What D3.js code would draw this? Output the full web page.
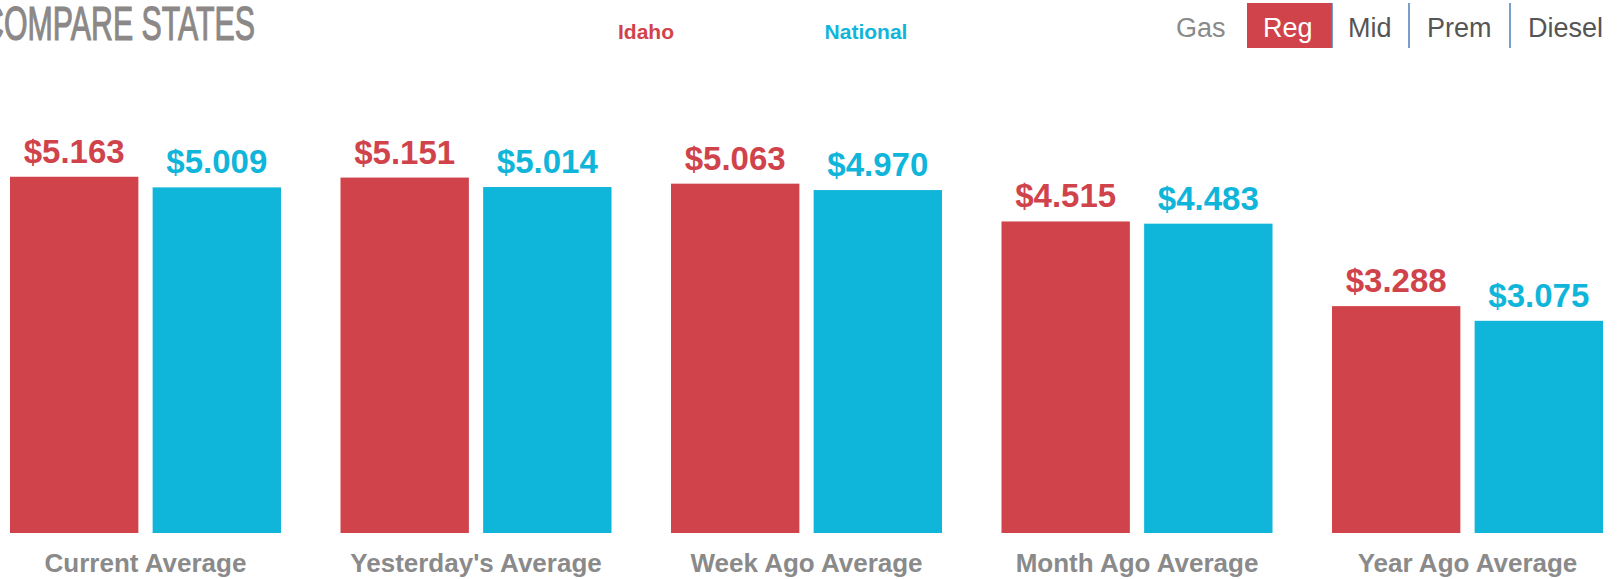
<html lang="en">
  <head>
    <meta charset="UTF-8" />
    <title>Compare States</title>
    <script src="https://d3js.org/d3.v7.min.js"></script>
  </head>
  <body>
    <style>
      body {
        background-color: #ffffff;
        margin: 0;
        padding: 0;
        overflow: hidden;
        font-family: "Liberation Sans", Arial, sans-serif;
      }
      svg {
        display: block;
      }
    </style>
    <script>
      const w = 1619;
      const h = 579;

      // data
      const categories = [
        "Current Average",
        "Yesterday's Average",
        "Week Ago Average",
        "Month Ago Average",
        "Year Ago Average",
      ];
      const seriesNames = ["Idaho", "National"];
      const idahoValues = [5.163, 5.151, 5.063, 4.515, 3.288];
      const nationalValues = [5.009, 5.014, 4.97, 4.483, 3.075];
      const gasTypes = ["Reg", "Mid", "Prem", "Diesel"];
      const activeGas = "Reg";

      const colors = { Idaho: "#d0434b", National: "#10b5da" };

      const rows = categories.map((c, i) => ({
        category: c,
        values: [
          { series: "Idaho", value: idahoValues[i] },
          { series: "National", value: nationalValues[i] },
        ],
      }));

      const svg = d3
        .select("body")
        .append("svg")
        .attr("width", w)
        .attr("height", h);

      // title (left edge is cut off like the original)
      const title = svg
        .append("text")
        .attr("font-size", 49)
        .attr("fill", "#8b8887")
        .attr("stroke", "#8b8887")
        .attr("stroke-width", 1.2)
        .text("COMPARE STATES");
      const fullW = title.node().getComputedTextLength();
      const cAdv = title.node().getSubStringLength(0, 1);
      const sx = 251 / (fullW - cAdv);
      title.attr(
        "transform",
        `translate(${4 - sx * cAdv}, 40) scale(${sx}, 1)`
      );

      // legend
      const legendX = { Idaho: 646, National: 866 };
      svg
        .append("g")
        .selectAll("text")
        .data(seriesNames)
        .join("text")
        .attr("x", (d) => legendX[d])
        .attr("y", 39)
        .attr("text-anchor", "middle")
        .attr("font-size", 21)
        .attr("font-weight", "bold")
        .attr("fill", (d) => colors[d])
        .text((d) => d);

      // gas type selector
      const menu = svg.append("g").attr("font-size", 27);
      menu
        .append("text")
        .attr("x", 1176)
        .attr("y", 37)
        .attr("fill", "#8a8a8a")
        .text("Gas");
      const menuStarts = [1247, 1332, 1409, 1510, 1619];
      const menuText = [1263, 1348, 1427, 1528];
      gasTypes.forEach((g, i) => {
        const active = g === activeGas;
        if (active) {
          menu
            .append("rect")
            .attr("x", menuStarts[i])
            .attr("y", 3)
            .attr("width", menuStarts[i + 1] - menuStarts[i])
            .attr("height", 45)
            .attr("fill", colors.Idaho);
        }
        menu
          .append("text")
          .attr("x", menuText[i])
          .attr("y", 37)
          .attr("fill", active ? "#ffffff" : "#555555")
          .text(g);
        if (i > 0) {
          menu
            .append("line")
            .attr("x1", menuStarts[i])
            .attr("x2", menuStarts[i])
            .attr("y1", 3)
            .attr("y2", 48)
            .attr("stroke", "#4a7fb8")
            .attr("stroke-width", 1.5);
        }
      });

      // scales
      const x0 = d3
        .scaleBand()
        .domain(categories)
        .range([10, 1603])
        .paddingInner(0.18)
        .paddingOuter(0);
      const x1 = d3
        .scaleBand()
        .domain(seriesNames)
        .range([0, x0.bandwidth()])
        .paddingInner(0.1);
      const y = d3.scaleLinear().domain([0, 6]).range([533, 119]);

      const groups = svg
        .append("g")
        .selectAll("g")
        .data(rows)
        .join("g")
        .attr("transform", (d) => `translate(${x0(d.category)},0)`);

      groups
        .selectAll("rect")
        .data((d) => d.values)
        .join("rect")
        .attr("x", (d) => x1(d.series))
        .attr("y", (d) => y(d.value))
        .attr("width", x1.bandwidth())
        .attr("height", (d) => y(0) - y(d.value))
        .attr("fill", (d) => colors[d.series]);

      groups
        .selectAll("text")
        .data((d) => d.values)
        .join("text")
        .attr("x", (d) => x1(d.series) + x1.bandwidth() / 2)
        .attr("y", (d) => y(d.value) - 14)
        .attr("text-anchor", "middle")
        .attr("font-size", 33)
        .attr("font-weight", "bold")
        .attr("fill", (d) => colors[d.series])
        .text((d) => "$" + d.value.toFixed(3));

      // category labels
      const xAxis = svg
        .append("g")
        .attr("transform", `translate(0, ${y(0)})`)
        .call(d3.axisBottom(x0).tickSize(0));
      xAxis.select(".domain").remove();
      xAxis
        .selectAll("text")
        .attr("y", 39)
        .attr("dy", 0)
        .attr("font-size", 26)
        .attr("font-weight", "bold")
        .attr("font-family", "'Liberation Sans', Arial, sans-serif")
        .attr("fill", "#8a8a8a");
    </script>
  </body>
</html>
